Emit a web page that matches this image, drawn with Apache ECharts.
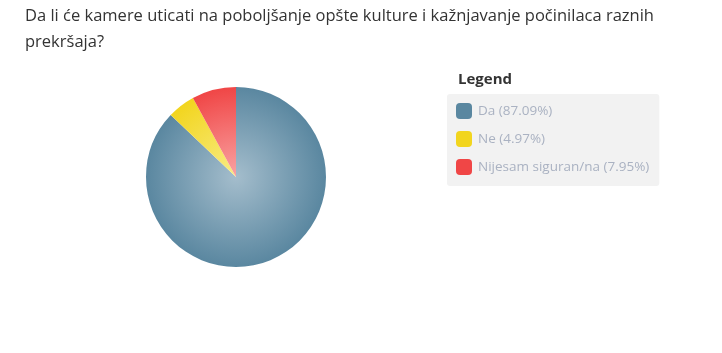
<!DOCTYPE html>
<html lang="sr">
<head>
    <meta charset="UTF-8">
    <title>Kamere</title>
    <script src="https://cdn.jsdelivr.net/npm/echarts@6/dist/echarts.min.js"></script>
    <style>
        html, body { margin: 0; padding: 0; background: #fff; }
        #charts { width: 722px; height: 353px; }
    </style>
</head>
<body>
<div id="charts"></div>
<script>
    // podaci
    var categories = ['Da', 'Ne', 'Nijesam siguran/na'];
    var values = [87.09, 4.97, 7.95];
    var edgeColors = ['#5a87a0', '#f2d51e', '#f04646'];
    var centerColors = ['#a4bdcc', '#f8ec86', '#f9a3a3'];

    var cx = 236, cy = 177, r = 90;

    function grad(i) {
        return {
            type: 'radial', x: cx, y: cy, r: r, global: true,
            colorStops: [
                {offset: 0, color: centerColors[i]},
                {offset: 1, color: edgeColors[i]}
            ]
        };
    }

    var pieData = categories.map(function (name, i) {
        return {name: name, value: values[i], itemStyle: {color: grad(i)}};
    });
    var legendData = categories.map(function (name, i) {
        return {name: name, itemStyle: {color: edgeColors[i]}};
    });

    var myChart = echarts.init(document.getElementById('charts'));
    myChart.setOption({
        animation: false,
        title: {
            text: 'Da li će kamere uticati na poboljšanje opšte kulture i kažnjavanje počinilaca raznih\nprekršaja?',
            left: 20,
            top: -2,
            textStyle: {
                fontFamily: 'Open Sans',
                fontSize: 16.5,
                fontWeight: 'normal',
                color: '#333',
                lineHeight: 26
            }
        },
        graphic: [{
            type: 'text',
            left: 458,
            top: 72,
            style: {
                text: 'Legend',
                font: 'bold 15px "Open Sans"',
                fill: '#333'
            }
        }],
        legend: {
            orient: 'vertical',
            left: 447,
            top: 94,
            padding: [9, 10, 11, 9],
            backgroundColor: '#f2f2f2',
            borderRadius: 3,
            icon: 'roundRect',
            itemWidth: 16,
            itemHeight: 16,
            itemGap: 12,
            data: legendData,
            selectedMode: false,
            formatter: function (name) {
                var i = categories.indexOf(name);
                return name + ' (' + values[i].toFixed(2) + '%)';
            },
            textStyle: {
                fontFamily: 'Open Sans',
                fontSize: 13.5,
                color: '#aab2c2',
                padding: [0, 0, 0, 1]
            }
        },
        series: [{
            type: 'pie',
            center: [cx, cy],
            radius: r,
            startAngle: 90,
            clockwise: true,
            label: {show: false},
            labelLine: {show: false},
            emphasis: {scale: false},
            itemStyle: {borderWidth: 0},
            data: pieData
        }]
    });
</script>
</body>
</html>
